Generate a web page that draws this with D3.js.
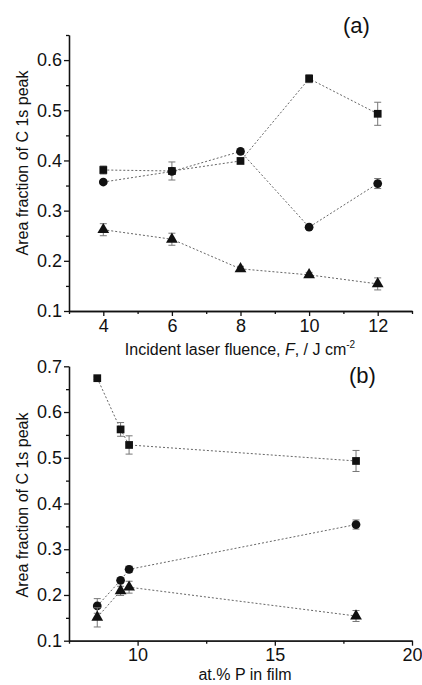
<!DOCTYPE html>
<html><head><meta charset="utf-8">
<script src="https://cdn.jsdelivr.net/npm/d3@7"></script>
<style>body{margin:0;background:#fff}svg{display:block}text{font-family:"Liberation Sans",Arial,sans-serif;fill:#111}</style>
</head><body><svg id="c" width="422" height="685"></svg>
<script>
// Panel (a): fluence
const fluence = [4, 6, 8, 10, 12];
const aSquare = [0.381, 0.379, 0.399, 0.563, 0.493];
const aSquareErr = [0.008, 0.018, 0.004, 0.008, 0.023];
const aCircle = [0.357, 0.378, 0.418, 0.267, 0.354];
const aCircleErr = [0.004, 0.004, 0.004, 0.004, 0.010];
const aTriangle = [0.262, 0.243, 0.184, 0.172, 0.154];
const aTriangleErr = [0.012, 0.012, 0.005, 0.005, 0.012];
const aXTicks = [4, 6, 8, 10, 12];
const aYTicks = [0.1, 0.2, 0.3, 0.4, 0.5, 0.6];

// Panel (b): at.% P
const atP = [8.53, 9.38, 9.69, 17.96];
const bSquare = [0.674, 0.562, 0.528, 0.493];
const bSquareErr = [0.003, 0.015, 0.020, 0.023];
const bCircle = [0.176, 0.232, 0.256, 0.354];
const bCircleErr = [0.016, 0.004, 0.007, 0.010];
const bTriangle = [0.151, 0.209, 0.217, 0.154];
const bTriangleErr = [0.021, 0.010, 0.013, 0.012];
const bXTicks = [10, 15, 20];
const bYTicks = [0.1, 0.2, 0.3, 0.4, 0.5, 0.6, 0.7];

const svg = d3.select("#c");

function panel(cfg){
  const x = d3.scaleLinear().domain(cfg.xDom).range([69, 412]);
  const y = d3.scaleLinear().domain(cfg.yDom).range(cfg.yRange);
  const g = svg.append("g");
  // minor ticks
  const gxm = g.append("g").attr("transform",`translate(0,${cfg.yRange[0]})`)
    .call(d3.axisBottom(x).tickValues(cfg.xMinor).tickSize(3).tickSizeOuter(0).tickFormat(""));
  const gym = g.append("g").attr("transform","translate(69,0)")
    .call(d3.axisLeft(y).tickValues(cfg.yMinor).tickSize(3).tickSizeOuter(0).tickFormat(""));
  const gx = g.append("g").attr("transform",`translate(0,${cfg.yRange[0]})`)
    .call(d3.axisBottom(x).tickValues(cfg.xTicks).tickSize(5).tickSizeOuter(0).tickPadding(3).tickFormat(d3.format("d")));
  const gy = g.append("g").attr("transform","translate(69,0)")
    .call(d3.axisLeft(y).tickValues(cfg.yTicks).tickSize(5).tickSizeOuter(0).tickPadding(2).tickFormat(d3.format(".1f")));
  [gxm,gym,gx,gy].forEach(a=>{a.selectAll("path,line").attr("stroke","#111").attr("stroke-width",1.3);});
  gx.selectAll("text").attr("font-size",18).attr("fill","#111");
  gy.selectAll("text").attr("font-size",18).attr("fill","#111");

  cfg.series.forEach(s=>{
    const pts = cfg.xs.map((xv,i)=>({x:xv,y:s.v[i],e:s.e[i]}));
    g.append("path").datum(pts)
      .attr("d", d3.line().x(d=>x(d.x)).y(d=>y(d.y)))
      .attr("fill","none").attr("stroke","#666").attr("stroke-width",1).attr("stroke-dasharray","2,2");
    const eb = g.append("g").attr("stroke","#777").attr("stroke-width",1);
    pts.forEach(d=>{
      const cx = x(d.x), y1=y(d.y+d.e), y2=y(d.y-d.e);
      eb.append("line").attr("x1",cx).attr("x2",cx).attr("y1",y1).attr("y2",y2);
      eb.append("line").attr("x1",cx-3.5).attr("x2",cx+3.5).attr("y1",y1).attr("y2",y1);
      eb.append("line").attr("x1",cx-3.5).attr("x2",cx+3.5).attr("y1",y2).attr("y2",y2);
    });
    const sym = d3.symbol().type(s.type).size(s.size);
    g.append("g").selectAll("path").data(pts).join("path")
      .attr("transform",d=>`translate(${x(d.x)},${y(d.y)})`)
      .attr("d",sym).attr("fill","#111");
  });
}

panel({
  xDom:[3,13], yDom:[0.1,0.65], yRange:[311,35],
  xTicks:aXTicks, yTicks:aYTicks,
  xMinor:[3,5,7,9,11,13], yMinor:[0.15,0.25,0.35,0.45,0.55,0.65],
  xs:fluence,
  series:[
    {v:aSquare,e:aSquareErr,type:d3.symbolSquare,size:60},
    {v:aCircle,e:aCircleErr,type:d3.symbolCircle,size:60},
    {v:aTriangle,e:aTriangleErr,type:d3.symbolTriangle,size:60}
  ]
});
panel({
  xDom:[7.5,20], yDom:[0.1,0.7], yRange:[640.7,366.3],
  xTicks:bXTicks, yTicks:bYTicks,
  xMinor:[7.5,12.5,17.5], yMinor:[0.15,0.25,0.35,0.45,0.55,0.65],
  xs:atP,
  series:[
    {v:bSquare,e:bSquareErr,type:d3.symbolSquare,size:60},
    {v:bCircle,e:bCircleErr,type:d3.symbolCircle,size:60},
    {v:bTriangle,e:bTriangleErr,type:d3.symbolTriangle,size:60}
  ]
});

// labels
svg.append("text").attr("x",343).attr("y",33).attr("font-size",22).text("(a)");
svg.append("text").attr("x",349).attr("y",383).attr("font-size",22).text("(b)");
const xl = svg.append("text").attr("x",240).attr("y",355).attr("text-anchor","middle").attr("font-size",16);
xl.append("tspan").text("Incident laser fluence, ");
xl.append("tspan").attr("font-style","italic").text("F");
xl.append("tspan").text(",  / J cm");
xl.append("tspan").attr("font-size",10).attr("dy",-7).text("-2");
svg.append("text").attr("x",245).attr("y",680).attr("text-anchor","middle").attr("font-size",16).text("at.% P in film");
svg.append("text").attr("transform","translate(28,163) rotate(-90)").attr("text-anchor","middle").attr("font-size",16).text("Area fraction of C 1s peak");
svg.append("text").attr("transform","translate(28,505) rotate(-90)").attr("text-anchor","middle").attr("font-size",16).text("Area fraction of C 1s peak");
</script></body></html>
